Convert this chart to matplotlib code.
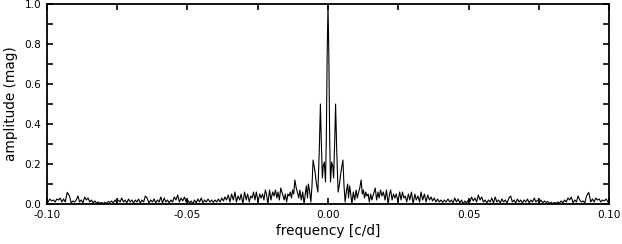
import matplotlib
matplotlib.use("Agg")
import matplotlib.pyplot as plt
import numpy as np
from matplotlib.ticker import MultipleLocator, FormatStrFormatter

plt.rcParams['font.family'] = ['DejaVu Sans']
plt.rcParams['axes.unicode_minus'] = False

# Spectral window (symmetric about 0): one-sided readings (frequency c/d, amplitude mag)
freq_pos = [0.0000, 0.0003, 0.0006, 0.0009, 0.0013, 0.0017, 0.0020, 0.0024, 0.0027, 0.0031,
            0.0036, 0.0041, 0.0046, 0.0053, 0.0057, 0.0061, 0.0066, 0.0070, 0.0073, 0.0077,
            0.0081, 0.0085, 0.0090, 0.0095, 0.0100, 0.0104, 0.0109, 0.0113, 0.0118, 0.0122,
            0.0126, 0.0130, 0.0134, 0.0138, 0.0143, 0.0147, 0.0152, 0.0156, 0.0162, 0.0168,
            0.0173, 0.0178, 0.0182, 0.0187, 0.0192, 0.0197, 0.0203, 0.0208, 0.0214, 0.0219,
            0.0223, 0.0228, 0.0233, 0.0238, 0.0243, 0.0249, 0.0255, 0.0260, 0.0265, 0.0270,
            0.0275, 0.0280, 0.0286, 0.0291, 0.0297, 0.0303, 0.0309, 0.0314, 0.0320, 0.0326,
            0.0331, 0.0337, 0.0343, 0.0349, 0.0355, 0.0361, 0.0367, 0.0372, 0.0378, 0.0384,
            0.0390, 0.0396, 0.0402, 0.0408, 0.0414, 0.0420, 0.0427, 0.0433, 0.0439, 0.0445,
            0.0451, 0.0457, 0.0463, 0.0469, 0.0475, 0.0481, 0.0487, 0.0493, 0.0499, 0.0505,
            0.0511, 0.0517, 0.0523, 0.0529, 0.0535, 0.0541, 0.0547, 0.0553, 0.0559, 0.0565,
            0.0571, 0.0577, 0.0583, 0.0589, 0.0595, 0.0601, 0.0607, 0.0613, 0.0619, 0.0625,
            0.0631, 0.0637, 0.0644, 0.0650, 0.0656, 0.0662, 0.0668, 0.0674, 0.0680, 0.0686,
            0.0692, 0.0698, 0.0704, 0.0710, 0.0716, 0.0722, 0.0728, 0.0734, 0.0740, 0.0746,
            0.0752, 0.0758, 0.0764, 0.0770, 0.0776, 0.0782, 0.0788, 0.0794, 0.0800, 0.0806,
            0.0812, 0.0818, 0.0824, 0.0830, 0.0836, 0.0842, 0.0848, 0.0854, 0.0860, 0.0866,
            0.0872, 0.0878, 0.0884, 0.0890, 0.0896, 0.0902, 0.0908, 0.0914, 0.0920, 0.0928,
            0.0935, 0.0941, 0.0947, 0.0953, 0.0959, 0.0965, 0.0971, 0.0977, 0.0983, 0.0990,
            0.0996, 0.1000]
amp_pos = [1.00, 0.74, 0.32, 0.11, 0.21, 0.19, 0.13, 0.32, 0.50, 0.27,
           0.06, 0.10, 0.16, 0.22, 0.09, 0.01, 0.07, 0.10, 0.03, 0.09,
           0.05, 0.00, 0.06, 0.02, 0.07, 0.03, 0.06, 0.08, 0.12, 0.05,
           0.07, 0.03, 0.06, 0.04, 0.05, 0.01, 0.05, 0.02, 0.05, 0.08,
           0.02, 0.06, 0.03, 0.07, 0.04, 0.06, 0.02, 0.07, 0.00, 0.05,
           0.07, 0.02, 0.05, 0.03, 0.05, 0.01, 0.06, 0.02, 0.06, 0.03,
           0.04, 0.01, 0.05, 0.02, 0.06, 0.00, 0.05, 0.02, 0.04, 0.01,
           0.06, 0.02, 0.05, 0.01, 0.045, 0.02, 0.035, 0.015, 0.03, 0.01,
           0.025, 0.01, 0.02, 0.008, 0.02, 0.01, 0.025, 0.01, 0.02, 0.005,
           0.03, 0.01, 0.025, 0.005, 0.02, 0.00, 0.015, 0.005, 0.02, 0.01,
           0.035, 0.015, 0.03, 0.01, 0.045, 0.02, 0.035, 0.01, 0.02, 0.005,
           0.02, 0.01, 0.03, 0.005, 0.035, 0.01, 0.02, 0.005, 0.025, 0.01,
           0.02, 0.005, 0.03, 0.04, 0.01, 0.02, 0.005, 0.025, 0.01, 0.02,
           0.005, 0.02, 0.01, 0.025, 0.005, 0.02, 0.01, 0.03, 0.01, 0.02,
           0.008, 0.02, 0.005, 0.015, 0.008, 0.012, 0.003, 0.008, 0.002, 0.008,
           0.003, 0.01, 0.004, 0.015, 0.005, 0.02, 0.01, 0.03, 0.02, 0.035,
           0.005, 0.02, 0.01, 0.04, 0.02, 0.01, 0.015, 0.005, 0.04, 0.058,
           0.01, 0.025, 0.01, 0.03, 0.02, 0.025, 0.01, 0.02, 0.015, 0.025,
           0.01, 0.015]

freq = [-f for f in freq_pos[:0:-1]] + freq_pos
amp = amp_pos[:0:-1] + amp_pos

fig = plt.figure(figsize=(6.22, 2.44), dpi=100)
ax = fig.add_axes([47/622, 40/244, 562/622, 200/244])
ax.plot(freq, amp, color='black', linewidth=0.8)

ax.set_xlim(-0.10, 0.10)
ax.set_ylim(0.0, 1.0)
ax.xaxis.set_major_locator(MultipleLocator(0.05))
ax.xaxis.set_minor_locator(MultipleLocator(0.025))
ax.yaxis.set_major_locator(MultipleLocator(0.2))
ax.yaxis.set_minor_locator(MultipleLocator(0.1))
ax.xaxis.set_major_formatter(FormatStrFormatter('%.2f'))
ax.yaxis.set_major_formatter(FormatStrFormatter('%.1f'))
ax.tick_params(which='both', direction='in', top=True, right=True, length=4, width=1.2,
               labelsize=7.6, pad=4, colors='black')
for s in ax.spines.values():
    s.set_linewidth(1.3)

ax.set_xlabel('frequency [c/d]', fontsize=9.8, labelpad=3)
ax.set_ylabel('amplitude (mag)', fontsize=9.8, labelpad=5)

fig.savefig('out.png', dpi=100)
